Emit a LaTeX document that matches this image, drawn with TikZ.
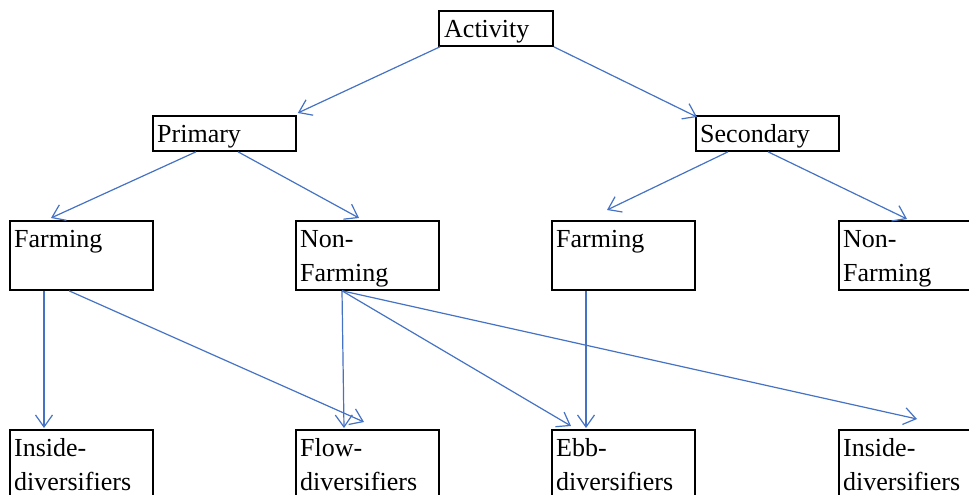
\documentclass[tikz,border=0pt]{standalone}
\usepackage{fontspec}
\setmainfont{Liberation Serif}
\usetikzlibrary{arrows.meta,calc}
\definecolor{arrblue}{RGB}{68,114,196}
\begin{document}
\begin{tikzpicture}[x=1pt,y=-1pt,
  box/.style={draw=black,line width=1.8pt,anchor=north west,inner sep=0pt,minimum width=143pt},
  onebox/.style={box,minimum height=35pt},
  twobox/.style={box,minimum height=69pt},
  lowbox/.style={box,minimum height=90pt},
  txt/.style={anchor=base west,inner sep=0pt,font=\fontsize{26}{34}\selectfont},
  arr/.style={draw=arrblue,line width=1.2pt,-{Straight Barb[length=12pt,width=17pt,line width=1.2pt]}}]
\clip (0,0) rectangle (969,495);
% boxes
\node[onebox,minimum width=114pt] (act) at (438,10) {};
\node[onebox] (pri) at (152,115) {};
\node[onebox] (sec) at (695,115) {};
\node[twobox] (farmL) at (9,220) {};
\node[twobox] (nonL) at (295,220) {};
\node[twobox] (farmR) at (551,220) {};
\node[twobox] (nonR) at (838,220) {};
\node[lowbox] (insL) at (9,429) {};
\node[lowbox] (flow) at (295,429) {};
\node[lowbox] (ebb) at (551,429) {};
\node[lowbox] (insR) at (838,429) {};
% texts
\node[txt] (tact) at ($(act.north west)+(6,28)$) {Activity};
\node[txt] (tpri) at ($(pri.north west)+(5,27)$) {Primary};
\node[txt] (tsec) at ($(sec.north west)+(5,27)$) {Secondary};
\node[txt] (tfarmL) at ($(farmL.north west)+(5,27)$) {Farming};
\node[txt] (tnonL) at ($(nonL.north west)+(5,27)$) {\parbox[t]{130pt}{Non-\\Farming}};
\node[txt] (tfarmR) at ($(farmR.north west)+(5,27)$) {Farming};
\node[txt] (tnonR) at ($(nonR.north west)+(5,27)$) {\parbox[t]{130pt}{Non-\\Farming}};
\node[txt] (tinsL) at ($(insL.north west)+(5,27)$) {\parbox[t]{140pt}{Inside-\\diversifiers}};
\node[txt] (tflow) at ($(flow.north west)+(5,27)$) {\parbox[t]{140pt}{Flow-\\diversifiers}};
\node[txt] (tebb) at ($(ebb.north west)+(5,27)$) {\parbox[t]{140pt}{Ebb-\\diversifiers}};
\node[txt] (tinsR) at ($(insR.north west)+(5,27)$) {\parbox[t]{140pt}{Inside-\\diversifiers}};
% arrow end points
\coordinate (e1) at ($(pri.north east)+(1,-2)$);
\coordinate (e2) at ($(sec.north west)+(2,2)$);
\coordinate (e3) at (51,218);
\coordinate (e4) at (359,218);
\coordinate (e5) at (607,210);
\coordinate (e6) at (907,219);
\coordinate (e7) at (44,428);
\coordinate (e8) at (364,422);
\coordinate (e9) at (344,428);
\coordinate (e10) at (571,426);
\coordinate (e11) at (586,428);
\coordinate (e12) at (917,419);
% connectors
\draw[arr] ($(act.south west)+(2,0)$) -- (e1);
\draw[arr] (act.south east) -- (e2);
\draw[arr] ($(pri.south west)+(44,0)$) -- (e3);
\draw[arr] ($(pri.south west)+(86,0)$) -- (e4);
\draw[arr] ($(sec.south west)+(33,0)$) -- (e5);
\draw[arr] ($(sec.south west)+(73,0)$) -- (e6);
\draw[arr] ($(farmL.south west)+(35,0)$) -- (e7);
\draw[arr] ($(farmL.south west)+(60,0)$) -- (e8);
\draw[arr] ($(nonL.south west)+(47,0)$) -- (e9);
\draw[arr] ($(nonL.south west)+(47,0)$) -- (e10);
\draw[arr] ($(nonL.south west)+(47,0)$) -- (e12);
\draw[arr] ($(farmR.south west)+(35,0)$) -- (e11);
\end{tikzpicture}
\end{document}
